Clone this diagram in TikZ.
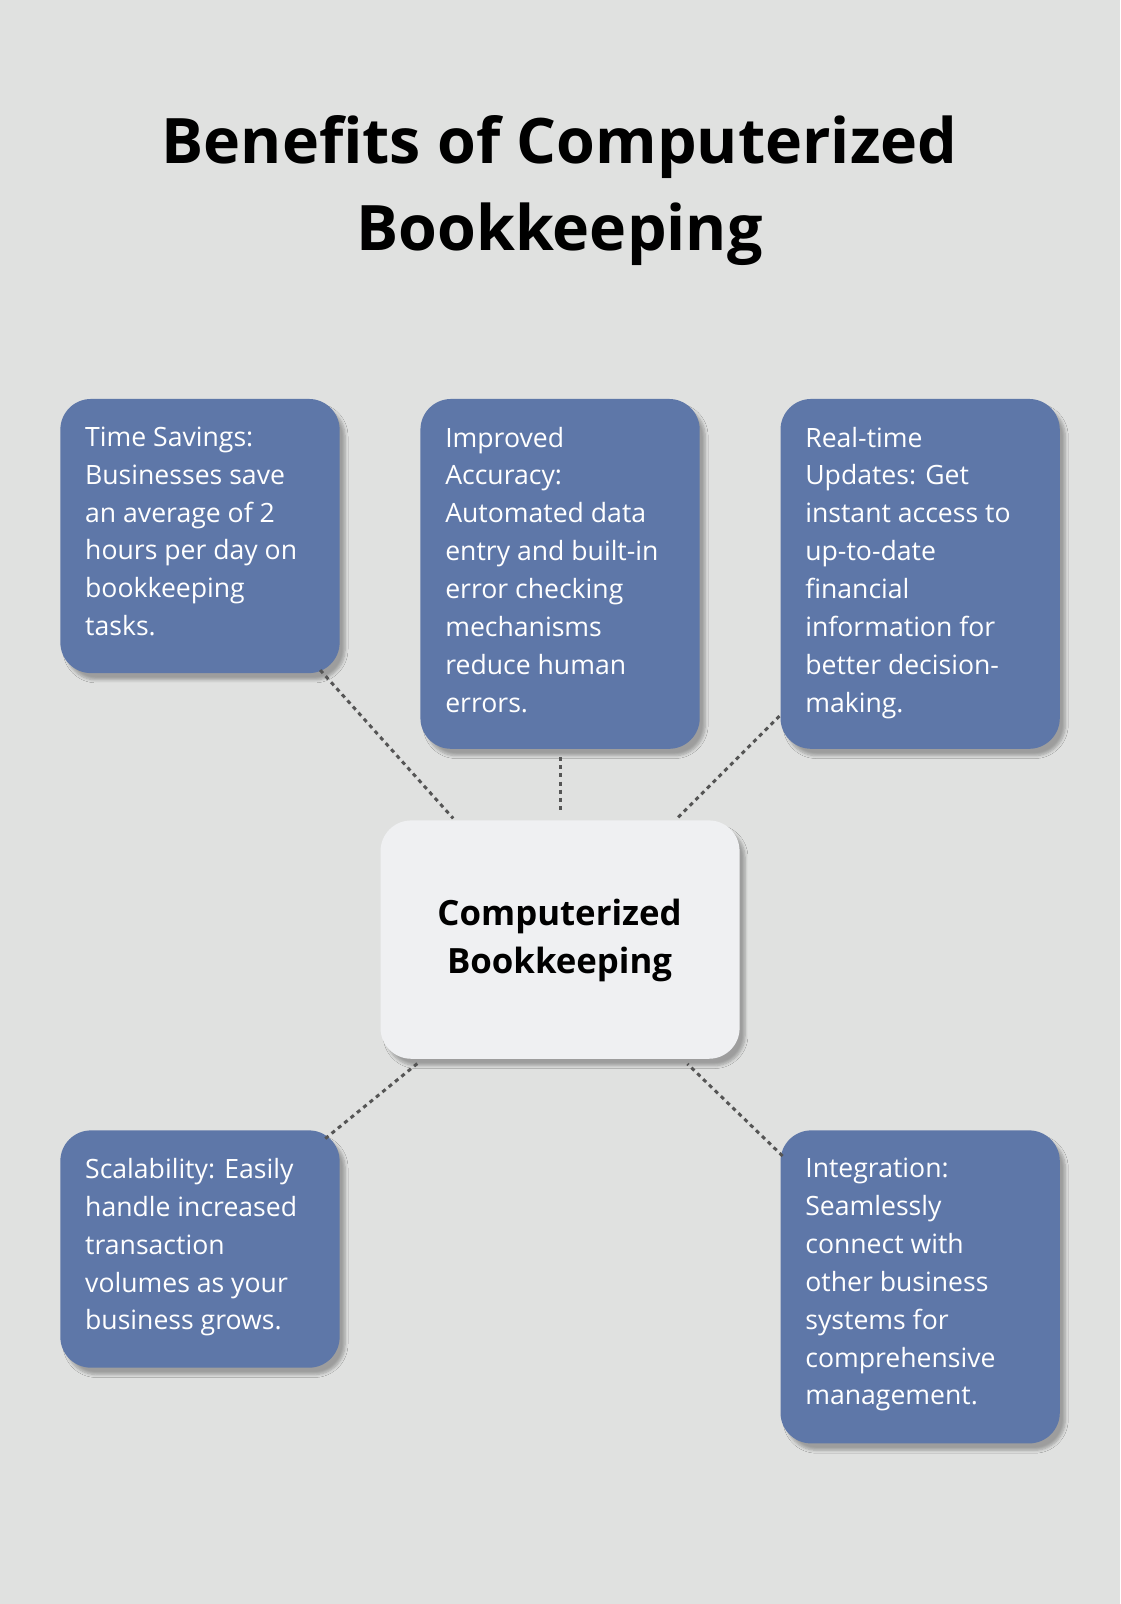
\documentclass[tikz,border=0pt]{standalone}
\usepackage{fontspec}
\setmainfont{Open Sans}
\usetikzlibrary{shadows,shadows.blur}
\definecolor{bg}{HTML}{E0E1E0}
\definecolor{boxblue}{HTML}{5E77A8}
\definecolor{centerbox}{HTML}{EFF0F2}
\definecolor{dotc}{HTML}{555555}
\tikzset{
  card/.style={draw=none,fill=boxblue,rounded corners=22.5pt,blur shadow={shadow xshift=4pt,shadow yshift=-5pt,shadow opacity=30,shadow blur steps=6}},
  cardtext/.style={anchor=north west,inner sep=0pt,text=white,align=left,font=\fontsize{19.5pt}{27.75pt}\selectfont},
  link/.style={draw=dotc,line width=2.2pt,dash pattern=on 3pt off 3pt}
}
\begin{document}
\begin{tikzpicture}[x=0.75pt,y=-0.75pt]
\fill[bg] (0,0) rectangle (1095,1568);
\useasboundingbox (0,0) rectangle (1095,1568);
\node[align=center,font=\fontsize{46pt}{64pt}\selectfont\bfseries] (title) at (547,186) {Benefits of Computerized\\Bookkeeping};
% cards
\path[card] (59,390) rectangle (332,658);
\path[card] (411,390) rectangle (684,732);
\path[card] (763,390) rectangle (1036,732);
\path[card] (59,1105) rectangle (332,1337);
\path[card] (763,1105) rectangle (1036,1411);
\path[card,fill=centerbox] (372,802) rectangle (723,1035);
\node[cardtext] (t1) at (83,417) {Time Savings:\\Businesses save\\an average of 2\\hours per day on\\bookkeeping\\tasks.};
\node[cardtext] (t2) at (435,417) {Improved\\Accuracy:\\Automated data\\entry and built-in\\error checking\\mechanisms\\reduce human\\errors.};
\node[cardtext] (t3) at (787,417) {Real-time\\Updates: Get\\instant access to\\up-to-date\\financial\\information for\\better decision-\\making.};
\node[cardtext] (t4) at (83,1132) {Scalability: Easily\\handle increased\\transaction\\volumes as your\\business grows.};
\node[cardtext] (t5) at (787,1132) {Integration:\\Seamlessly\\connect with\\other business\\systems for\\comprehensive\\management.};
\node[align=center,font=\fontsize{25.5pt}{35pt}\selectfont\bfseries] (c) at (547,919) {Computerized\\Bookkeeping};
% connector endpoints
\coordinate (a1) at (313,655); \coordinate (b1) at (443,800);
\coordinate (a2) at (548,740); \coordinate (b2) at (548,795);
\coordinate (a3) at (762,700); \coordinate (b3) at (662,800);
\coordinate (a4) at (318,1113); \coordinate (b4) at (410,1038);
\coordinate (a5) at (765,1130); \coordinate (b5) at (672,1040);
\foreach \i in {1,...,5} {\draw[link] (a\i) -- (b\i);}
\end{tikzpicture}
\end{document}
